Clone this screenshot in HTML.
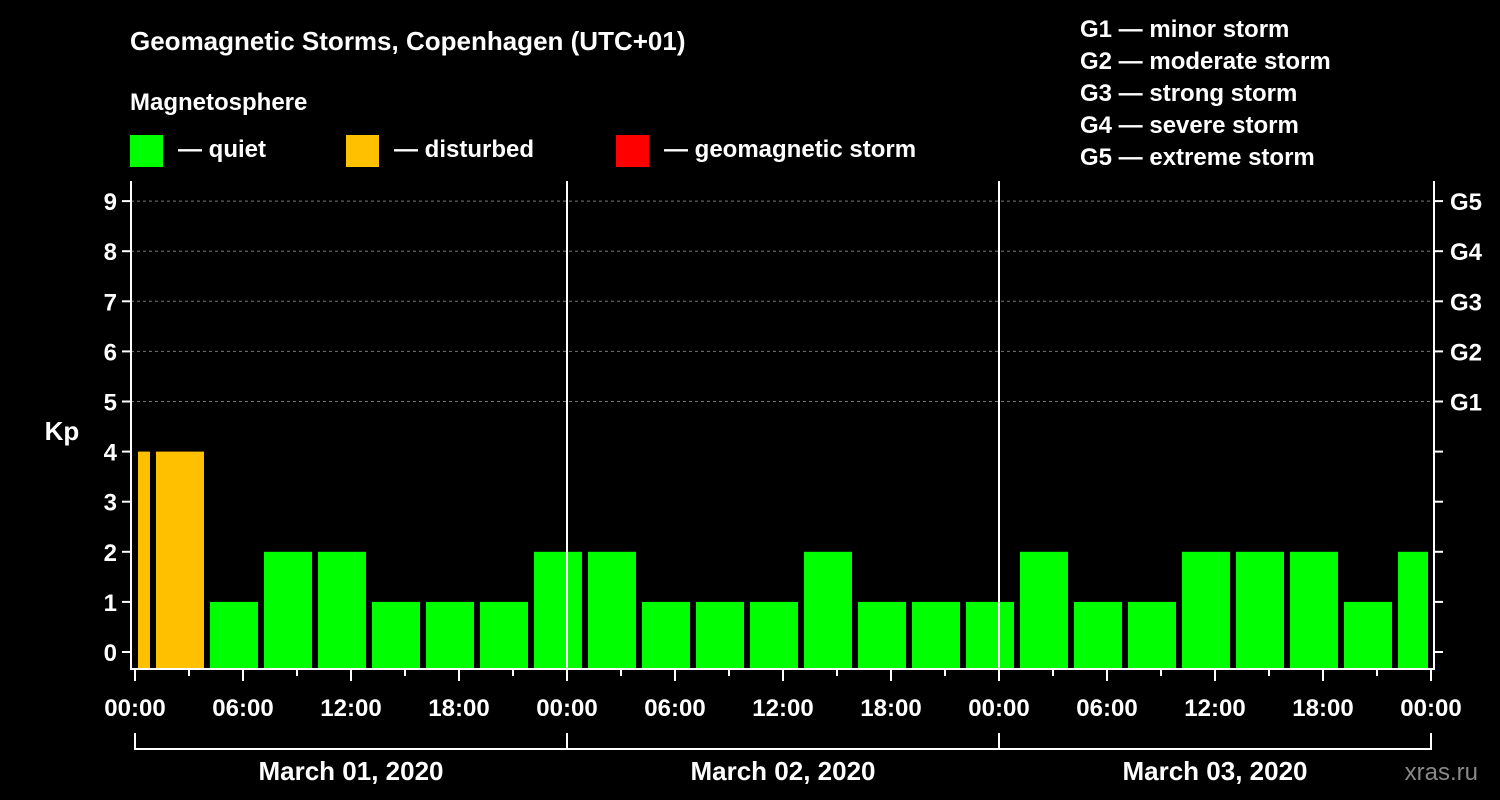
<!DOCTYPE html>
<html><head><meta charset="utf-8"><style>
body{margin:0;background:#000;}
svg{display:block;font-family:"Liberation Sans",Arial,sans-serif;font-weight:bold;}
</style></head><body>
<svg width="1500" height="800" viewBox="0 0 1500 800">
<rect width="1500" height="800" fill="#000"/>
<g fill="#fff">
<text x="130" y="50" font-size="26">Geomagnetic Storms, Copenhagen (UTC+01)</text>
<text x="130" y="110" font-size="24">Magnetosphere</text>
<rect x="130" y="135" width="33" height="32" fill="#00ff00"/>
<text x="178" y="157" font-size="24">— quiet</text>
<rect x="346" y="135" width="33" height="32" fill="#ffc000"/>
<text x="394" y="157" font-size="24">— disturbed</text>
<rect x="616" y="135" width="33" height="32" fill="#ff0000"/>
<text x="664" y="157" font-size="24">— geomagnetic storm</text>
<g font-size="24">
<text x="1080" y="37">G1 — minor storm</text>
<text x="1080" y="69">G2 — moderate storm</text>
<text x="1080" y="101">G3 — strong storm</text>
<text x="1080" y="133">G4 — severe storm</text>
<text x="1080" y="165">G5 — extreme storm</text>
</g>
<text x="62" y="440" font-size="26" text-anchor="middle">Kp</text>
<text x="1478" y="780" font-size="24" text-anchor="end" fill="#888" font-weight="normal">xras.ru</text>
</g>
<g id="plot"></g>
</svg>
<script>
const kpValues=[4,4,1,2,2,1,1,1,2,2,1,1,1,2,1,1,1,2,1,1,2,2,2,1,2];
const barStartHours=[0,1,4,7,10,13,16,19,22,25,28,31,34,37,40,43,46,49,52,55,58,61,64,67,70];
const barEndHours=[1,4,7,10,13,16,19,22,25,28,31,34,37,40,43,46,49,52,55,58,61,64,67,70,72];
const hourLabels=["00:00","06:00","12:00","18:00","00:00","06:00","12:00","18:00","00:00","06:00","12:00","18:00","00:00"];
const dayLabels=["March 01, 2020","March 02, 2020","March 03, 2020"];
const gLabels=["G1","G2","G3","G4","G5"];
const NS="http://www.w3.org/2000/svg";
const X0=135,PXH=18.0,Y0=652,PXK=50.1,TOP=181,BOT=669,LEFT=131,RIGHT=1434;
const xs=h=>X0+h*PXH, ys=k=>Y0-k*PXK;
const plot=document.getElementById('plot');
function mk(tag,at,parent){const e=document.createElementNS(NS,tag);for(const k in at)e.setAttribute(k,at[k]);(parent||plot).appendChild(e);return e;}
// grid
for(let k=5;k<=9;k++){const l=mk('line',{x1:LEFT,x2:RIGHT,y1:ys(k),y2:ys(k),stroke:'#777','stroke-dasharray':'3,3','stroke-width':1});

}
// bars
kpValues.forEach((v,i)=>{const a=xs(barStartHours[i])+3,b=xs(barEndHours[i])-3;
const r=mk('rect',{x:a,y:ys(v),width:Math.max(b-a,1),height:BOT-ys(v),fill:v>=5?'#ff0000':(v>=4?'#ffc000':'#00ff00')});

});
// frame
const fr=mk('path',{d:`M${LEFT} ${TOP}V${BOT}H${RIGHT}V${TOP}`,stroke:'#fff','stroke-width':2,fill:'none'});


[24,48].forEach(h=>{const l=mk('line',{x1:xs(h),x2:xs(h),y1:TOP,y2:BOT,stroke:'#fff','stroke-width':2});

});
// y ticks
for(let k=0;k<=9;k++){
mk('line',{x1:LEFT-9,x2:LEFT,y1:ys(k),y2:ys(k),stroke:'#fff','stroke-width':2});
mk('line',{x1:RIGHT,x2:RIGHT+9,y1:ys(k),y2:ys(k),stroke:'#fff','stroke-width':2});
const t=mk('text',{x:LEFT-14,y:ys(k)+9,'font-size':24,fill:'#fff','text-anchor':'end'});t.textContent=k;

}
gLabels.forEach((g,i)=>{const t=mk('text',{x:RIGHT+16,y:ys(i+5)+9,'font-size':24,fill:'#fff'});t.textContent=g;

});
// x ticks
for(let h=0;h<=72;h+=3){mk('line',{x1:xs(h),x2:xs(h),y1:BOT,y2:BOT+(h%6==0?12:7),stroke:'#fff','stroke-width':2});}
hourLabels.forEach((s,i)=>{const t=mk('text',{x:xs(i*6),y:716,'font-size':24,fill:'#fff','text-anchor':'middle'});t.textContent=s;

});
mk('path',{d:`M${xs(0)} 733V749H${xs(72)}V733`,stroke:'#fff','stroke-width':2,fill:'none'});
[24,48].forEach(h=>mk('line',{x1:xs(h),x2:xs(h),y1:733,y2:749,stroke:'#fff','stroke-width':2}));
dayLabels.forEach((s,i)=>{const t=mk('text',{x:xs(i*24+12),y:780,'font-size':26,fill:'#fff','text-anchor':'middle'});t.textContent=s;

});
</script>
</body></html>
